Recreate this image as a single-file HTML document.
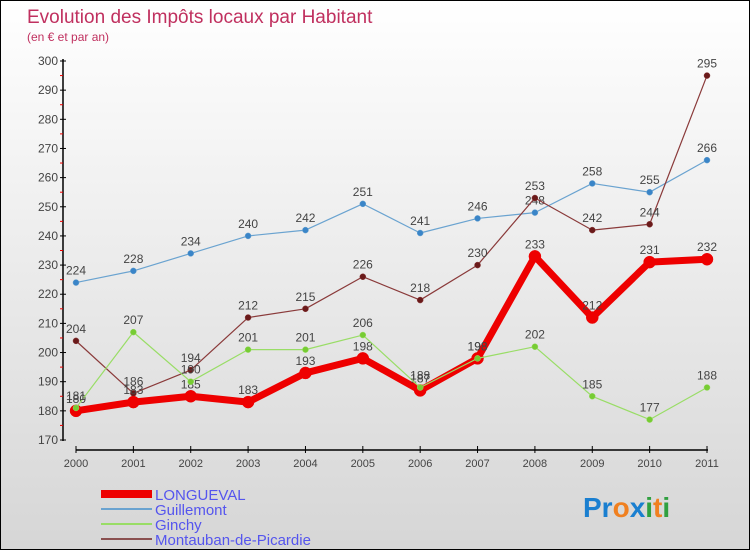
<!DOCTYPE html>
<html><head><meta charset="utf-8"><style>
body{margin:0;}
#wrap{width:748px;height:548px;border:1px solid #000;background:linear-gradient(#ffffff,#d6d6d6);position:relative;font-family:"Liberation Sans",sans-serif;}
svg{position:absolute;left:0;top:0;}
</style></head><body>
<div id="wrap">
<svg id="chart" width="750" height="550">
<text x="26" y="22" font-size="19" fill="#c0305f">Evolution des Impôts locaux par Habitant</text>
<text x="26" y="40" font-size="12" fill="#c0305f">(en € et par an)</text>
</svg>
</div>
<script>
const years=["2000","2001","2002","2003","2004","2005","2006","2007","2008","2009","2010","2011"];
const yTicks=[170,180,190,200,210,220,230,240,250,260,270,280,290,300];
const longueval=[180,183,185,183,193,198,187,198,233,212,231,232];
const guillemont=[224,228,234,240,242,251,241,246,248,258,255,266];
const ginchy=[181,207,190,201,201,206,188,198,202,185,177,188];
const montauban=[204,186,194,212,215,226,218,230,253,242,244,295];
const svg=document.getElementById('chart');
const NS='http://www.w3.org/2000/svg';
function X(i){return 75+i*(706-75)/11;}
function Y(v){return 439-(v-170)*(439-60)/130;}
function mk(t,a,p){const e=document.createElementNS(NS,t);for(const k in a)e.setAttribute(k,a[k]);(p||svg).appendChild(e);return e;}
// axes
let e=mk('line',{x1:62,y1:58,x2:62,y2:440,stroke:'#000','stroke-width':1.5});


e=mk('line',{x1:75,y1:449,x2:707,y2:449,stroke:'#000','stroke-width':1.5});


yTicks.forEach(v=>{
  mk('line',{x1:59,y1:Y(v),x2:65,y2:Y(v),stroke:'#000'});
  if(v<300)mk('line',{x1:59,y1:Y(v+5),x2:62,y2:Y(v+5),stroke:'#e00'});
  const t=mk('text',{x:57,y:Y(v)+4,'font-size':12,fill:'#444','text-anchor':'end'});
  t.textContent=v;
  
  
});
years.forEach((y,i)=>{
  mk('line',{x1:X(i),y1:445,x2:X(i),y2:452,stroke:'#000'});
  const t=mk('text',{x:X(i),y:466,'font-size':11,fill:'#444','text-anchor':'middle'});
  t.textContent=y;
  
  
});
function series(data,color,dot,w,r,name){
  const g=mk('g',{});
  
  
  mk('polyline',{points:data.map((v,i)=>X(i)+','+Y(v)).join(' '),fill:'none',stroke:color,'stroke-width':w,'stroke-linejoin':'round'},g);
  data.forEach((v,i)=>{
    const c=mk('circle',{cx:X(i),cy:Y(v),r:r,fill:dot,stroke:color,'stroke-width':0.5},g);
    
    
    const t=mk('text',{x:X(i),y:Y(v)-8,'font-size':12,fill:'#444','text-anchor':'middle'},g);
    t.textContent=v;
  });
}
series(guillemont,'#6aa3d0','#3a85c8',1.2,3,'series-guillemont');
series(montauban,'#8a3a3a','#6a1a1a',1.2,3,'series-montauban');
series(longueval,'#ee0000','#ee0000',7,6,'series-longueval');
series(ginchy,'#99dd66','#77cc33',1.2,3,'series-ginchy');
// legend
const leg=[['LONGUEVAL','#ee0000',8],['Guillemont','#6aa3d0',2],['Ginchy','#99dd66',2],['Montauban-de-Picardie','#8a5050',2]];
leg.forEach((l,i)=>{
  const y=493+i*15;
  const g=mk('g',{});
  
  
  mk('line',{x1:100,y1:y,x2:151,y2:y,stroke:l[1],'stroke-width':l[2]},g);
  const t=mk('text',{x:154,y:y+6,'font-size':15,fill:'#5555ee'},g);
  t.textContent=l[0];
});
// logo
const lg=mk('text',{x:582,y:516,'font-size':28,'font-weight':'bold'});


[['Pr','#1a7fd0'],['o','#f08020'],['x','#1a7fd0'],['i','#30a040'],['t','#f08020'],['i','#30a040']].forEach(p=>{const s=mk('tspan',{fill:p[1]},lg);s.textContent=p[0];});
</script>
</body></html>
